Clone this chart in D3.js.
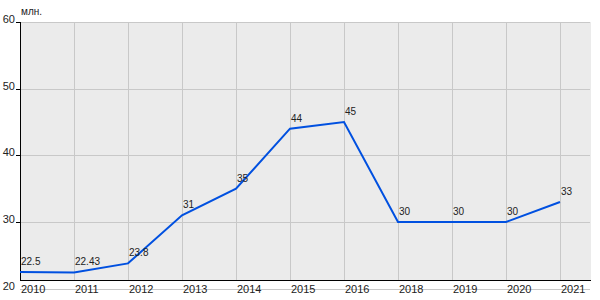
<!DOCTYPE html>
<html>
<head>
<meta charset="utf-8">
<script src="https://cdn.jsdelivr.net/npm/d3@7"></script>
<style>
  body { margin: 0; background: #fff; }
  text { font-family: "Liberation Sans", Arial, sans-serif; }
</style>
</head>
<body>
<svg id="chart" width="600" height="300"></svg>
<script>
// data
const years = ["2010", "2011", "2012", "2013", "2014", "2015", "2016", "2018", "2019", "2020", "2021"];
const values = [22.5, 22.43, 23.8, 31, 35, 44, 45, 30, 30, 30, 33];
const yTicks = [20, 30, 40, 50, 60];
const unitLabel = "млн.";

const svg = d3.select("#chart");

// plot box
const plotL = 20, plotR = 591, plotT = 22, plotB = 280;

const x = d3.scalePoint().domain(years).range([20, 560]);
const y = d3.scaleLinear().domain([20, 60]).range([288.7, 22]);

// background
svg.append("rect")
    .attr("x", plotL).attr("y", plotT)
    .attr("width", plotR - plotL).attr("height", plotB - plotT)
    .attr("fill", "#ebebeb");

// horizontal grid
svg.append("g")
    .selectAll("line")
    .data(yTicks)
    .join("line")
    .attr("x1", plotL).attr("x2", plotR - 1)
    .attr("y1", d => Math.round(y(d)) + 0.5)
    .attr("y2", d => Math.round(y(d)) + 0.5)
    .attr("stroke", "#c8c8c8")
    .attr("stroke-width", 1);

// vertical grid
svg.append("g")
    .selectAll("line")
    .data(years.slice(1))
    .join("line")
    .attr("x1", d => Math.round(x(d)) + 0.5)
    .attr("x2", d => Math.round(x(d)) + 0.5)
    .attr("y1", plotT).attr("y2", plotB)
    .attr("stroke", "#c8c8c8")
    .attr("stroke-width", 1);

// axes lines
svg.append("line")
    .attr("x1", plotL + 0.5).attr("x2", plotL + 0.5)
    .attr("y1", plotT).attr("y2", plotB + 1)
    .attr("stroke", "#000");
svg.append("line")
    .attr("x1", plotL).attr("x2", plotR)
    .attr("y1", plotB + 0.5).attr("y2", plotB + 0.5)
    .attr("stroke", "#000");

// y ticks + labels
const yg = svg.append("g");
yg.selectAll("line")
    .data(yTicks.filter(d => d > 20))
    .join("line")
    .attr("x1", 16).attr("x2", 20)
    .attr("y1", d => Math.round(y(d)) + 0.5)
    .attr("y2", d => Math.round(y(d)) + 0.5)
    .attr("stroke", "#000");
yg.selectAll("text")
    .data(yTicks)
    .join("text")
    .attr("x", 15)
    .attr("y", d => y(d) + 1)
    .attr("text-anchor", "end")
    .attr("font-size", 11)
    .attr("fill", "#222")
    .text(d => d);

// x labels (left aligned at the point)
svg.append("g")
    .selectAll("text")
    .data(years)
    .join("text")
    .attr("x", d => x(d) + 1)
    .attr("y", 293)
    .attr("font-size", 11)
    .attr("fill", "#222")
    .text(d => d);

// unit label
svg.append("text")
    .attr("x", 21).attr("y", 15)
    .attr("font-size", 10)
    .attr("fill", "#222")
    .text(unitLabel);

// line
const line = d3.line()
    .x((d, i) => x(years[i]))
    .y(d => y(d));

svg.append("path")
    .datum(values)
    .attr("d", line)
    .attr("fill", "none")
    .attr("stroke", "#0050e0")
    .attr("stroke-width", 2);

// value labels
svg.append("g")
    .selectAll("text")
    .data(values)
    .join("text")
    .attr("x", (d, i) => x(years[i]) + 1)
    .attr("y", d => y(d) - 7)
    .attr("font-size", 10)
    .attr("fill", "#222")
    .text(d => d);
</script>
</body>
</html>
